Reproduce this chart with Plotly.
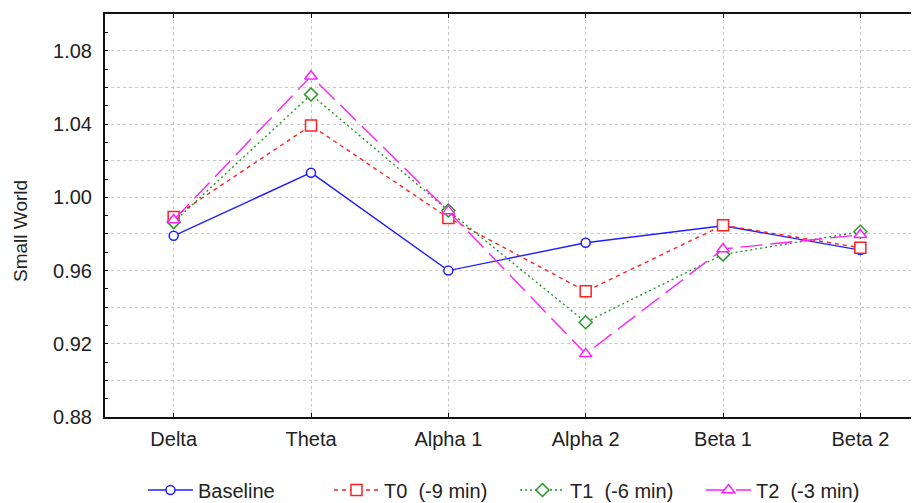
import plotly.graph_objects as go

categories = ["Delta", "Theta", "Alpha 1", "Alpha 2", "Beta 1", "Beta 2"]
baseline = [0.979, 1.0135, 0.960, 0.9752, 0.9845, 0.9712]
t0 = [0.9893, 1.0393, 0.9888, 0.9487, 0.9848, 0.9725]
t1 = [0.9865, 1.0562, 0.9928, 0.9318, 0.9688, 0.9812]
t2 = [0.9876, 1.0662, 0.9925, 0.9145, 0.9718, 0.9796]

series_names = ["Baseline", "T0 \u00a0(-9 min)", "T1 \u00a0(-6 min)", "T2 \u00a0(-3 min)"]
series_values = [baseline, t0, t1, t2]
colors = ["#1f1fff", "#ff2020", "#229922", "#ff20ff"]
dashes = ["solid", "4px,4px", "2px,3px", "22px,8px"]
symbols = ["circle", "square", "diamond", "triangle-up"]
sizes = [9, 11, 10, 11]

y_tickvals = [0.88 + 0.02 * i for i in range(11)]
y_ticktext = [f"{v:.2f}" if i % 2 == 0 else "" for i, v in enumerate(y_tickvals)]

fig = go.Figure()
x_idx = list(range(len(categories)))
for name, vals, c, d, s, sz in zip(series_names, series_values, colors, dashes, symbols, sizes):
    fig.add_trace(go.Scatter(
        x=x_idx, y=vals, name=name, mode="lines+markers",
        line=dict(color=c, width=1.4, dash=d),
        marker=dict(symbol=s, size=sz, color="white", line=dict(color=c, width=1.5)),
    ))

grid_col = "#c8c8c8"
# page has an 8px body offset; figure coordinates below are page minus 8
W, H = 911, 495
L, T, B = 97, 6, 86
PW, PH = W - L, H - T - B
fig.update_layout(
    width=W, height=H,
    margin=dict(l=L, r=0, t=T, b=B, autoexpand=False),
    paper_bgcolor="white", plot_bgcolor="white",
    font=dict(family="Liberation Sans, Arial, sans-serif", size=20, color="#222222"),
    showlegend=True,
    legend=dict(orientation="h", x=(135 - L) / PW, xanchor="left",
                y=(409 - 482) / PH, yanchor="middle",
                font=dict(size=20), entrywidth=126, entrywidthmode="pixels",
                itemwidth=45, tracegroupgap=0),
    xaxis=dict(
        range=[-0.5, 5.427], tickmode="array", tickvals=x_idx, ticktext=categories,
        showline=True, linecolor="#111111", linewidth=2, mirror="ticks",
        ticks="inside", ticklen=4, tickcolor="#111111",
        showgrid=True, gridcolor=grid_col, griddash="dot", gridwidth=1,
        zeroline=False, tickfont=dict(size=20), automargin=False,
        ticklabelstandoff=3,
    ),
    yaxis=dict(
        range=[0.88, 1.1002], tickmode="array", tickvals=y_tickvals, ticktext=y_ticktext,
        showline=True, linecolor="#111111", linewidth=2, mirror=False,
        ticks="inside", ticklen=3, tickcolor="#111111",
        minor=dict(dtick=0.01, ticks="inside", ticklen=3, tickcolor="#111111", showgrid=False),
        showgrid=True, gridcolor=grid_col, griddash="dot", gridwidth=1,
        zeroline=False, tickfont=dict(size=20), automargin=False,
        ticklabelstandoff=7,
    ),
    annotations=[dict(text="Small World", textangle=-90, xref="paper", yref="paper",
                      x=(12 - L) / PW, y=(409 - 223) / PH, xanchor="center", yanchor="middle",
                      showarrow=False, font=dict(size=19, color="#222222"))],
)

fig.write_html("out.html")
